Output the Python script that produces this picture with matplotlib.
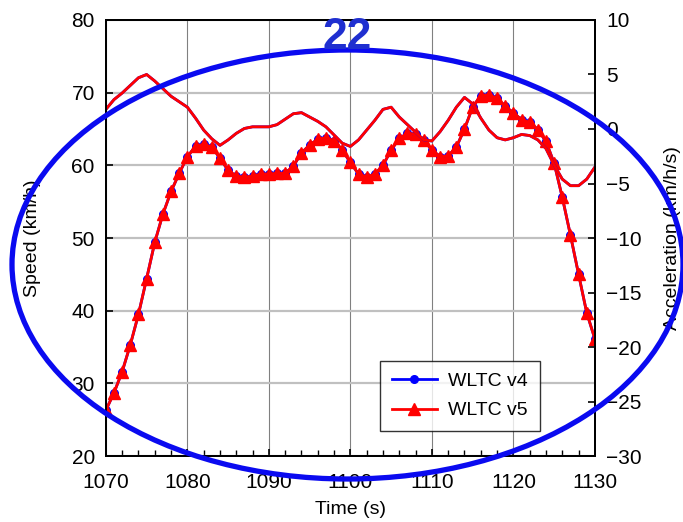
import matplotlib
matplotlib.use("Agg")
import matplotlib.pyplot as plt
from matplotlib.patches import Ellipse
from matplotlib.ticker import MultipleLocator
import numpy as np

plt.rcParams['font.family'] = ['Liberation Sans', 'DejaVu Sans']

# time axis (s)
time = np.arange(1070, 1131)

# vehicle speed (km/h)
speed_v5 = [26.3, 28.7, 31.6, 35.3, 39.5, 44.4, 49.4, 53.3, 56.4, 58.9,
            61.2, 62.6, 62.9, 62.5, 61.0, 59.3, 58.5, 58.4, 58.5, 58.8,
            58.8, 58.9, 58.9, 59.9, 61.7, 62.8, 63.6, 63.8, 63.4, 62.1,
            60.4, 58.8, 58.4, 58.8, 60.0, 62.1, 63.7, 64.4, 64.3, 63.5,
            62.1, 61.2, 61.3, 62.5, 65.0, 68.0, 69.6, 69.7, 69.2, 68.1,
            67.2, 66.3, 65.9, 64.9, 63.3, 60.3, 55.6, 50.4, 45.0, 39.7,
            36.1]
speed_v4 = list(speed_v5)

# acceleration (km/h/s)
accel_v5 = [1.8, 2.7, 3.3, 4.0, 4.7, 5.0, 4.4, 3.7, 3.0, 2.5,
            2.0, 1.0, -0.1, -0.9, -1.5, -1.0, -0.4, 0.05, 0.2, 0.2,
            0.2, 0.4, 0.9, 1.4, 1.5, 1.1, 0.7, 0.2, -0.55, -1.3,
            -1.6, -1.0, -0.1, 0.8, 1.8, 2.0, 1.1, 0.4, -0.3, -1.0,
            -1.1, -0.25, 0.8, 2.0, 2.9, 2.3, 1.0, -0.1, -0.8, -1.0,
            -0.8, -0.5, -0.6, -1.0, -1.8, -3.3, -4.6, -5.2, -5.2, -4.6,
            -3.5]
accel_v4 = list(accel_v5)

fig = plt.figure(figsize=(6.83, 5.22), dpi=100)
ax = fig.add_axes([0.155, 0.1264, 0.716, 0.8353])
ax2 = ax.twinx()

# speed on left axis
ax.plot(time, speed_v4, color="blue", lw=2, marker="o", ms=5.5, label="WLTC v4", zorder=3)
ax.plot(time, speed_v5, color="red", lw=2, marker="^", ms=8, label="WLTC v5", zorder=4)
ax.set_xlim(1070, 1130)
ax.set_ylim(20, 80)
ax.xaxis.set_major_locator(MultipleLocator(10))
ax.xaxis.set_minor_locator(MultipleLocator(2))
ax.yaxis.set_major_locator(MultipleLocator(10))
ax.grid(True, axis="y", color="#c0c0c0", lw=1.6)
ax.grid(True, axis="x", color="#808080", lw=0.8)
ax.set_axisbelow(True)
ax.tick_params(direction="in", labelsize=15, length=5, width=1.2)
ax.tick_params(which="minor", direction="in", length=4, width=1.0)
ax.tick_params(axis="x", pad=12)
ax.tick_params(axis="y", pad=8)
ax.set_xlabel("Time (s)", fontsize=14, labelpad=7)
ax.set_ylabel("Speed (km/h)", fontsize=14, labelpad=22)

# acceleration on right axis
ax2.plot(time, accel_v4, color="blue", lw=2)
ax2.plot(time, accel_v5, color="red", lw=2)
ax2.set_ylim(-30, 10)
ax2.yaxis.set_major_locator(MultipleLocator(5))
ax2.tick_params(direction="in", labelsize=15, length=5, width=1.2, pad=8)
ax2.set_ylabel("Acceleration (km/h/s)", fontsize=14, labelpad=16)

for a in (ax, ax2):
    for s in a.spines.values():
        s.set_linewidth(1.4)

leg = ax2.legend(*ax.get_legend_handles_labels(), loc="lower right",
                 bbox_to_anchor=(0.8875, 0.057), borderaxespad=0,
                 fontsize=14, fancybox=False, edgecolor="black",
                 handlelength=2.3, borderpad=0.6, labelspacing=0.6,
                 handletextpad=0.6)
leg.get_frame().set_linewidth(1.0)

fig.text(0.508, 0.928, "22", color="#1f2fd0", fontsize=32, fontweight="bold",
         ha="center", va="center")

ell = Ellipse((347.5 / 683, 1 - 264.5 / 522), 671 / 683, 429 / 522,
              transform=fig.transFigure, fill=False, edgecolor="#0a0af0", lw=3.8)
fig.add_artist(ell)

fig.savefig("out.png", dpi=100)
